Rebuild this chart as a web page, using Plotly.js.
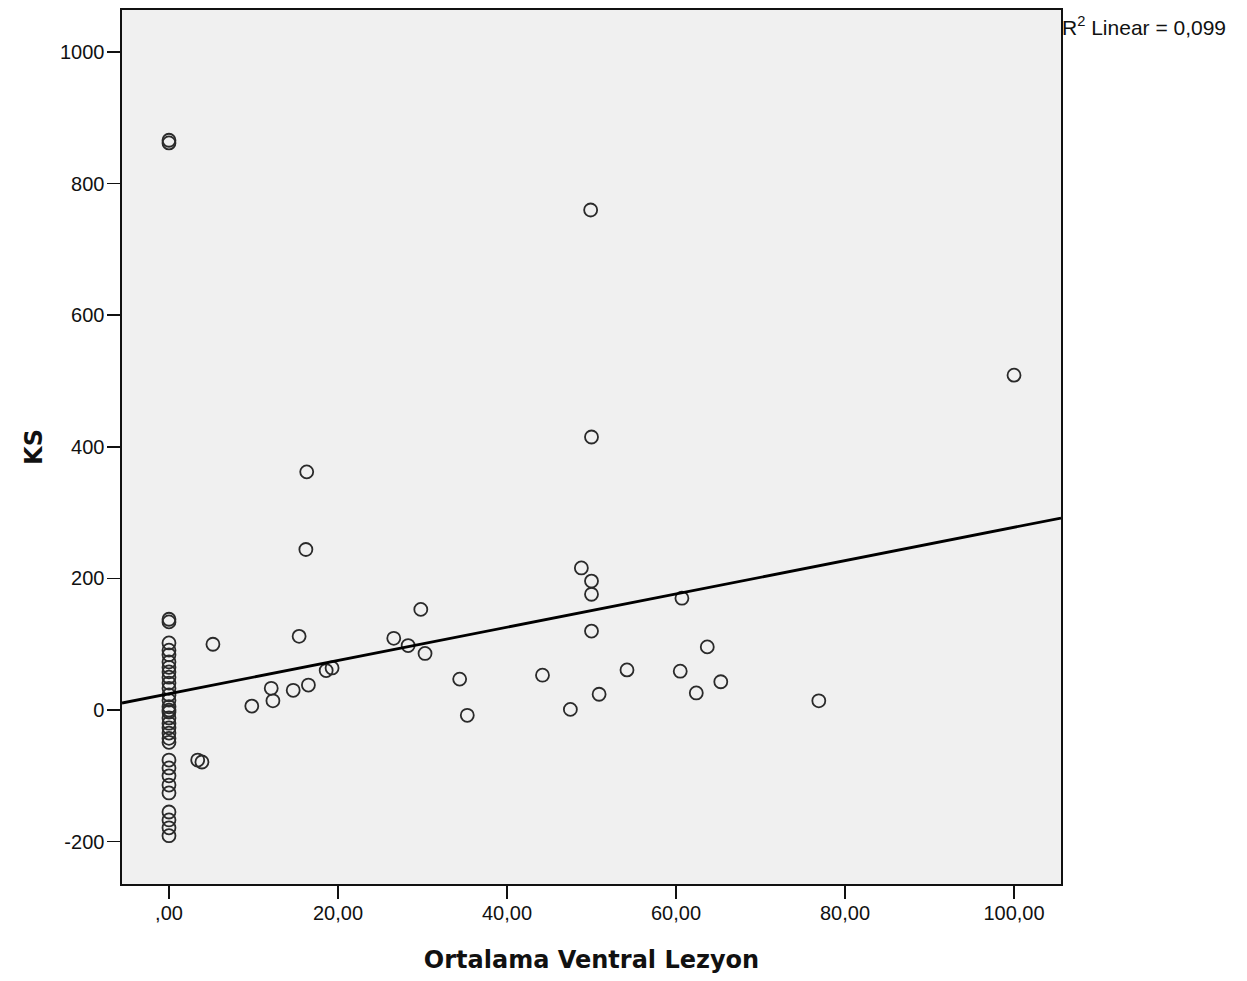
<!DOCTYPE html>
<html>
<head>
<meta charset="utf-8">
<script src="https://cdn.plot.ly/plotly-3.0.1.min.js"></script>
<style>html,body{margin:0;padding:0;background:#fff;}#chart{width:1247px;height:981px;}</style>
</head>
<body>
<div id="chart"></div>
<script>
// Points at x = 0 (Ortalama Ventral Lezyon = 0)
const zeroGroupKS = [866, 862, 138, 134, 102, 91, 84, 73, 65, 58, 50, 41, 33, 23, 15, 5, 0, -3, -12, -20, -27, -35, -43, -49, -76, -88, -100, -114, -126, -155, -167, -179, -191];
// Remaining points
const lezyonX = [3.4, 3.9, 5.2, 9.8, 12.1, 12.3, 14.7, 15.4, 16.2, 16.3, 16.5, 18.6, 19.3, 26.6, 28.3, 29.8, 30.3, 34.4, 35.3, 44.2, 47.5, 48.8, 50.0, 50.0, 50.0, 50.0, 49.9, 50.9, 54.2, 60.5, 60.7, 62.4, 63.7, 65.3, 76.9, 100.0];
const ksY     = [-76, -79, 100, 6, 33, 14, 30, 112, 244, 362, 38, 60, 64, 109, 98, 153, 86, 47, -8, 53, 1, 216, 196, 176, 120, 415, 760, 24, 61, 59, 170, 26, 96, 43, 14, 509];
// Linear fit
const fitIntercept = 24.7;
const fitSlope = 2.53;
const xRange = [-5.56, 105.56];
const yRange = [-264.4, 1064];
const xTickVals = [0, 20, 40, 60, 80, 100];
const xTickText = [",00", "20,00", "40,00", "60,00", "80,00", "100,00"];
const yTickVals = [-200, 0, 200, 400, 600, 800, 1000];
const yTickText = ["-200", "0", "200", "400", "600", "800", "1000"];

const allX = zeroGroupKS.map(() => 0).concat(lezyonX);
const allY = zeroGroupKS.concat(ksY);

const tickFont = {family: 'Liberation Sans, Arial, sans-serif', size: 20, color: '#111'};
const titleFont = {family: 'DejaVu Sans, Verdana, sans-serif', size: 24, color: '#111', weight: 'bold'};

const traces = [
  {
    x: allX, y: allY, type: 'scatter', mode: 'markers',
    marker: {symbol: 'circle-open', size: 13, color: '#2a2a2a', line: {width: 1.8, color: '#2a2a2a'}},
    hoverinfo: 'x+y', showlegend: false
  },
  {
    x: xRange, y: xRange.map(v => fitIntercept + fitSlope * v), type: 'scatter', mode: 'lines',
    line: {color: '#000000', width: 2.8}, showlegend: false, hoverinfo: 'skip'
  }
];

const layout = {
  width: 1247, height: 981,
  margin: {l: 122, r: 186, t: 10, b: 97},
  paper_bgcolor: '#ffffff', plot_bgcolor: '#f0f0f0',
  font: {family: 'Liberation Sans, Arial, sans-serif', color: '#111', size: 20},
  showlegend: false,
  xaxis: {
    range: xRange, tickvals: xTickVals, ticktext: xTickText,
    showgrid: false, zeroline: false, showline: true, mirror: true, linecolor: '#111', linewidth: 1.6,
    ticks: 'outside', ticklen: 13, tickwidth: 1.6, tickcolor: '#111',
    tickfont: tickFont, ticklabelstandoff: -3,
    title: {text: 'Ortalama Ventral Lezyon', font: titleFont, standoff: 28}
  },
  yaxis: {
    range: yRange, tickvals: yTickVals, ticktext: yTickText,
    showgrid: false, zeroline: false, showline: true, mirror: true, linecolor: '#111', linewidth: 1.6,
    ticks: 'outside', ticklen: 13, tickwidth: 1.6, tickcolor: '#111',
    tickfont: tickFont, ticklabelstandoff: -1,
    title: {text: 'KS', font: titleFont, standoff: 10}
  },
  annotations: [{
    xref: 'paper', yref: 'paper', x: 1, y: 1, xanchor: 'left', yanchor: 'top', xshift: -1, yshift: -1,
    text: 'R<sup>2</sup> Linear = 0,099', showarrow: false,
    font: {family: 'Liberation Sans, Arial, sans-serif', size: 21, color: '#111'}
  }]
};

Plotly.newPlot('chart', traces, layout, {displayModeBar: false, staticPlot: true});
</script>
</body>
</html>
